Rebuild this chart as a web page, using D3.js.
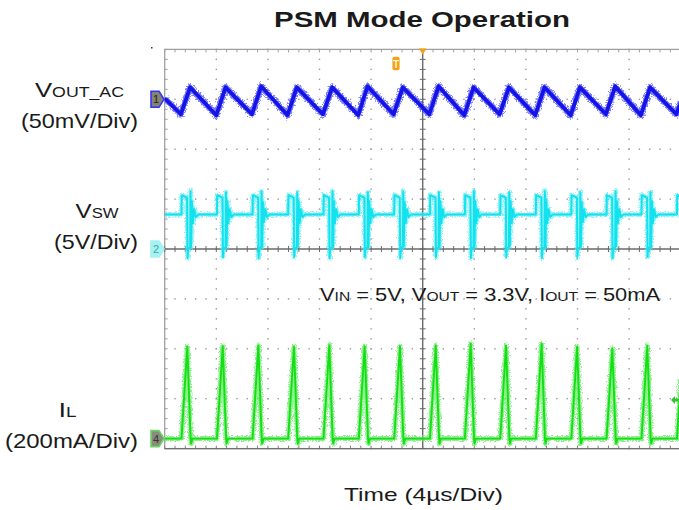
<!DOCTYPE html>
<html><head><meta charset="utf-8">
<script src="https://cdn.jsdelivr.net/npm/d3@7"></script>
<style>
body{margin:0;background:#fff}
svg{display:block}
text{font-family:"Liberation Sans",Arial,sans-serif;fill:#1a1a1a}
</style>
</head><body>
<svg id="c" width="679" height="510"></svg>
<script>
// ---------------- data (time in µs, trigger at 0) ----------------
const titleText = "PSM Mode Operation";
const xAxisLabel = "Time  (4\u00b5s/Div)";
const channelLabels = [
  {main:"V", sub:"OUT_AC", scale:"(50mV/Div)"},
  {main:"V", sub:"SW", scale:"(5V/Div)"},
  {main:"I", sub:"L", scale:"(200mA/Div)"}
];
const conditionParts = [["V","IN"," = 5V, "],["V","OUT"," = 3.3V, "],["I","OUT"," = 50mA"]];
// channel settings: units per division and ground offset in divisions
const voutPerDiv = 50, voutOffsetDiv = 3;
const vswPerDiv = 5, vswOffsetDiv = 0;
const ilPerDiv = 200, ilOffsetDiv = -3.8;

// VOUT_AC ripple (mV)
const voutTrace = [
 [-20.00,1],
 [-18.75,-15],[-18.03,12],
 [-16.00,-16],[-15.28,12],
 [-13.24,-15],[-12.52,13],
 [-10.48,-16],[-9.76,12],
 [-7.74,-15],[-7.02,12],
 [-5.00,-16],[-4.28,13],
 [-2.26,-15],[-1.54,12],
 [0.51,-15],[1.23,13],
 [3.22,-16],[3.94,12],
 [5.96,-15],[6.68,12],
 [8.72,-16],[9.44,12],
 [11.47,-16],[12.19,12],
 [14.20,-15],[14.92,13],
 [16.91,-16],[17.63,12],
 [19.66,-15],[20.00,-3]
];

// switch node voltage (V)
const vswTrace = [
 [-20.00,3.45],
 [-18.70,3.45],[-18.68,5.4],[-18.27,5.15],[-18.23,-0.9],[-18.18,0.1],[-18.03,0.1],[-18.00,5.8],[-17.95,0.2],[-17.89,4.8],[-17.81,2.6],[-17.71,4.0],[-17.59,3.2],[-17.40,3.45],
 [-15.95,3.45],[-15.93,5.4],[-15.52,5.15],[-15.48,-0.8],[-15.43,0.1],[-15.28,0.1],[-15.25,5.7],[-15.20,0.3],[-15.14,4.8],[-15.06,2.6],[-14.96,4.0],[-14.84,3.2],[-14.65,3.45],
 [-13.19,3.45],[-13.17,5.4],[-12.76,5.15],[-12.72,-0.9],[-12.67,0.1],[-12.52,0.1],[-12.49,5.8],[-12.44,0.2],[-12.38,4.7],[-12.30,2.7],[-12.20,4.0],[-12.08,3.2],[-11.89,3.45],
 [-10.43,3.45],[-10.41,5.4],[-10.00,5.15],[-9.96,-0.8],[-9.91,0.1],[-9.76,0.1],[-9.73,5.7],[-9.68,0.3],[-9.62,4.8],[-9.54,2.6],[-9.44,4.0],[-9.32,3.2],[-9.13,3.45],
 [-7.69,3.45],[-7.67,5.4],[-7.26,5.15],[-7.22,-0.9],[-7.17,0.1],[-7.02,0.1],[-6.99,5.8],[-6.94,0.2],[-6.88,4.8],[-6.80,2.6],[-6.70,4.0],[-6.58,3.2],[-6.39,3.45],
 [-4.95,3.45],[-4.93,5.4],[-4.52,5.15],[-4.48,-0.8],[-4.43,0.1],[-4.28,0.1],[-4.25,5.7],[-4.20,0.2],[-4.14,4.8],[-4.06,2.6],[-3.96,4.0],[-3.84,3.2],[-3.65,3.45],
 [-2.21,3.45],[-2.19,5.4],[-1.78,5.15],[-1.74,-0.9],[-1.69,0.1],[-1.54,0.1],[-1.51,5.8],[-1.46,0.3],[-1.40,4.7],[-1.32,2.6],[-1.22,4.0],[-1.10,3.2],[-0.91,3.45],
 [0.56,3.45],[0.58,5.4],[0.99,5.15],[1.03,-0.8],[1.08,0.1],[1.23,0.1],[1.26,5.7],[1.31,0.2],[1.37,4.8],[1.45,2.6],[1.55,4.0],[1.67,3.2],[1.86,3.45],
 [3.27,3.45],[3.29,5.4],[3.70,5.15],[3.74,-0.9],[3.79,0.1],[3.94,0.1],[3.97,5.8],[4.02,0.2],[4.08,4.8],[4.16,2.6],[4.26,4.0],[4.38,3.2],[4.57,3.45],
 [6.01,3.45],[6.03,5.4],[6.44,5.15],[6.48,-0.8],[6.53,0.1],[6.68,0.1],[6.71,5.7],[6.76,0.3],[6.82,4.8],[6.90,2.6],[7.00,4.0],[7.12,3.2],[7.31,3.45],
 [8.77,3.45],[8.79,5.4],[9.20,5.15],[9.24,-0.9],[9.29,0.1],[9.44,0.1],[9.47,5.8],[9.52,0.2],[9.58,4.8],[9.66,2.6],[9.76,4.0],[9.88,3.2],[10.07,3.45],
 [11.52,3.45],[11.54,5.4],[11.95,5.15],[11.99,-0.8],[12.04,0.1],[12.19,0.1],[12.22,5.7],[12.27,0.2],[12.33,4.7],[12.41,2.7],[12.51,4.0],[12.63,3.2],[12.82,3.45],
 [14.25,3.45],[14.27,5.4],[14.68,5.15],[14.72,-0.9],[14.77,0.1],[14.92,0.1],[14.95,5.8],[15.00,0.3],[15.06,4.8],[15.14,2.6],[15.24,4.0],[15.36,3.2],[15.55,3.45],
 [16.96,3.45],[16.98,5.4],[17.39,5.15],[17.43,-0.8],[17.48,0.1],[17.63,0.1],[17.66,5.7],[17.71,0.2],[17.77,4.8],[17.85,2.6],[17.95,4.0],[18.07,3.2],[18.26,3.45],
 [19.71,3.45],[19.73,5.4],[20.00,5.2]
];

// inductor current (mA)
const ilTrace = [
 [-20.00,0],
 [-18.70,0],[-18.25,368],[-17.99,0],[-17.95,-20],[-17.85,0],
 [-15.95,0],[-15.50,370],[-15.24,0],[-15.20,-20],[-15.10,0],
 [-13.19,0],[-12.74,372],[-12.48,0],[-12.44,-20],[-12.34,0],
 [-10.43,0],[-9.98,368],[-9.72,0],[-9.68,-20],[-9.58,0],
 [-7.69,0],[-7.24,374],[-6.98,0],[-6.94,-20],[-6.84,0],
 [-4.95,0],[-4.50,370],[-4.24,0],[-4.20,-20],[-4.10,0],
 [-2.21,0],[-1.76,370],[-1.50,0],[-1.46,-20],[-1.36,0],
 [0.56,0],[1.01,372],[1.27,0],[1.31,-20],[1.41,0],
 [3.27,0],[3.72,380],[3.98,0],[4.02,-20],[4.12,0],
 [6.01,0],[6.46,372],[6.72,0],[6.76,-20],[6.86,0],
 [8.77,0],[9.22,380],[9.48,0],[9.52,-20],[9.62,0],
 [11.52,0],[11.97,368],[12.23,0],[12.27,-20],[12.37,0],
 [14.25,0],[14.70,360],[14.96,0],[15.00,-20],[15.10,0],
 [16.96,0],[17.41,372],[17.67,0],[17.71,-20],[17.81,0],
 [19.71,0],[20.00,235]
];

// ---------------- drawing ----------------
const svg = d3.select("#c");
svg.append("rect").attr("width",679).attr("height",510).attr("fill","#fff");

const defs = svg.append("defs");
const f = defs.append("filter").attr("id","fuzz").attr("x","-5%").attr("y","-20%").attr("width","110%").attr("height","140%");
f.append("feTurbulence").attr("type","fractalNoise").attr("baseFrequency","0.8").attr("numOctaves",2).attr("seed",3).attr("result","n");
f.append("feDisplacementMap").attr("in","SourceGraphic").attr("in2","n").attr("scale",6).attr("xChannelSelector","R").attr("yChannelSelector","G");

const x = d3.scaleLinear().domain([-20,20]).range([164.7,680.7]);
const y = d3.scaleLinear().domain([-4,4]).range([448.6,49.4]);

const g = svg.append("g");
const majorX = d3.range(-20,20.001,4);
const majorY = d3.range(-4,4.001,1);
const minorX = d3.range(-20,20.001,0.8);
const minorY = d3.range(-4,4.001,0.2);

// dotted graticule
majorX.filter(v=>v!==-20 && v!==0 && v!==20).forEach(v=>{
  g.selectAll(null).data(minorY).enter().append("rect")
   .attr("x",x(v)-0.7).attr("y",d=>y(d)-0.7).attr("width",1.4).attr("height",1.4).attr("fill","#9a9a9a");
});
majorY.filter(v=>v!==-4 && v!==0 && v!==4).forEach(v=>{
  g.selectAll(null).data(minorX).enter().append("rect")
   .attr("x",d=>x(d)-0.7).attr("y",y(v)-0.7).attr("width",1.4).attr("height",1.4).attr("fill","#9a9a9a");
});

// border
g.append("rect").attr("x",x(-20)).attr("y",y(4)).attr("width",x(20)-x(-20)).attr("height",y(-4)-y(4))
 .attr("fill","none").attr("stroke","#a0a0a0").attr("stroke-width",1.3);
g.selectAll(null).data(minorY).enter().append("line")
 .attr("x1",x(-20)).attr("x2",x(-20)+3).attr("y1",d=>y(d)).attr("y2",d=>y(d)).attr("stroke","#a0a0a0");
g.selectAll(null).data(minorX).enter().append("line")
 .attr("x1",d=>x(d)).attr("x2",d=>x(d)).attr("y1",y(4)).attr("y2",y(4)+3).attr("stroke","#a0a0a0");
g.selectAll(null).data(minorX).enter().append("line")
 .attr("x1",d=>x(d)).attr("x2",d=>x(d)).attr("y1",y(-4)).attr("y2",y(-4)-3).attr("stroke","#808080");
g.append("line").attr("x1",x(-20)).attr("x2",x(20)).attr("y1",y(-4)).attr("y2",y(-4)).attr("stroke","#707070").attr("stroke-width",1.3);

// center axes
g.append("line").attr("x1",x(-20)).attr("x2",x(20)).attr("y1",y(0)).attr("y2",y(0)).attr("stroke","#6a6a6a").attr("stroke-width",1.4);
g.append("line").attr("x1",x(0)).attr("x2",x(0)).attr("y1",y(4)).attr("y2",y(-4)).attr("stroke","#6a6a6a").attr("stroke-width",1.4);
g.selectAll(null).data(minorX).enter().append("line")
 .attr("x1",d=>x(d)).attr("x2",d=>x(d)).attr("y1",y(0)-3).attr("y2",y(0)+3).attr("stroke","#6a6a6a");
g.selectAll(null).data(minorY).enter().append("line")
 .attr("x1",x(0)-3).attr("x2",x(0)+3).attr("y1",d=>y(d)).attr("y2",d=>y(d)).attr("stroke","#6a6a6a");

// traces
svg.append("clipPath").attr("id","plot").append("rect")
  .attr("x",x(-20)).attr("y",y(4)-2).attr("width",x(20)-x(-20)).attr("height",y(-4)-y(4)+4);
const tg = svg.append("g").attr("clip-path","url(#plot)");

function drawTrace(data, perDiv, offDiv, color, halo, haloW, mainW){
  const line = d3.line().x(d=>x(d[0])).y(d=>y(offDiv + d[1]/perDiv));
  tg.append("path").datum(data).attr("d",line).attr("fill","none").attr("filter","url(#fuzz)")
    .attr("stroke",halo).attr("stroke-width",haloW).attr("stroke-opacity",0.65).attr("stroke-linejoin","round");
  tg.append("path").datum(data).attr("d",line).attr("fill","none")
    .attr("stroke",color).attr("stroke-width",mainW).attr("stroke-linejoin","round");
}
drawTrace(voutTrace, voutPerDiv, voutOffsetDiv, "#1414e6", "#3c3cff", 6.5, 3.8);
drawTrace(vswTrace, vswPerDiv, vswOffsetDiv, "#12e2ee", "#50eaf4", 4.5, 1.9);
drawTrace(ilTrace, ilPerDiv, ilOffsetDiv, "#12e012", "#50ea50", 5, 1.9);

// channel markers
function marker(yy, fill, stroke, label, labelColor){
  const mg = svg.append("g").attr("transform",`translate(151,${yy})`);
  mg.append("path").attr("d","M0,-8 L8,-8 L13,0 L8,8 L0,8 Z").attr("fill",fill).attr("stroke",stroke).attr("stroke-width",1.6);
  mg.append("text").attr("x",5).attr("y",4).attr("text-anchor","middle").attr("font-size",11)
    .style("fill",labelColor).text(label);
}
marker(y(voutOffsetDiv), "#85856f", "#3434ff", "1", "#222");
marker(y(vswOffsetDiv), "#a6f2f2", "#a6f2f2", "2", "#3aa8a8");
marker(y(ilOffsetDiv), "#8b8b7b", "#6ad46a", "4", "#333");

// trigger markers
svg.append("path").attr("d",`M${x(0)-4},${y(4)-1} L${x(0)+4},${y(4)-1} L${x(0)},${y(4)+5} Z`).attr("fill","#f5a01a");
const tm = svg.append("g").attr("transform","translate(396,63.5)");
tm.append("rect").attr("x",-3.6).attr("y",-6.8).attr("width",7.2).attr("height",13.6).attr("rx",2).attr("fill","#f5a01a");
tm.append("text").attr("x",0).attr("y",4).attr("text-anchor","middle").attr("font-size",10).attr("font-weight","bold").style("fill","#fff2d0").text("T");
svg.append("path").attr("d","M671,400 L675,396 L675,398.5 L678.5,398.5 L678.5,401.5 L675,401.5 L675,404 Z").attr("fill","#30c030");
svg.append("rect").attr("x",151).attr("y",47).attr("width",1.5).attr("height",1.5).attr("fill","#333");

// title
svg.append("text").attr("x",422).attr("y",27).attr("text-anchor","middle")
  .attr("font-size",22).attr("font-weight","bold").attr("textLength",296).attr("lengthAdjust","spacingAndGlyphs").text(titleText);

// channel labels
const labelPos = [
  {cx:79.5, y1:97, y2:128, w1:89, w2:117},
  {cx:97, y1:218, y2:249, w1:43, w2:84},
  {cx:67.5, y1:417, y2:448, w1:18, w2:133}
];
channelLabels.forEach((c,i)=>{
  const p = labelPos[i];
  const t = svg.append("text").attr("x",p.cx).attr("y",p.y1).attr("text-anchor","middle").attr("font-size",21)
    .attr("textLength",p.w1).attr("lengthAdjust","spacingAndGlyphs");
  t.append("tspan").text(c.main);
  t.append("tspan").attr("font-size",14.5).text(c.sub);
  svg.append("text").attr("x",p.cx+(i===0?0:(i===1?-1:4))).attr("y",p.y2).attr("text-anchor","middle").attr("font-size",21)
    .attr("textLength",p.w2).attr("lengthAdjust","spacingAndGlyphs").text(c.scale);
});

// condition annotation
const ct = svg.append("text").attr("x",320).attr("y",301).attr("font-size",17.5)
  .attr("textLength",340).attr("lengthAdjust","spacingAndGlyphs");
conditionParts.forEach(c=>{
  ct.append("tspan").text(c[0]);
  ct.append("tspan").attr("font-size",12.5).text(c[1]);
  ct.append("tspan").text(c[2]);
});

// x axis label
svg.append("text").attr("x",423.5).attr("y",501).attr("text-anchor","middle").attr("font-size",19)
  .attr("textLength",159).attr("lengthAdjust","spacingAndGlyphs").text(xAxisLabel);
</script>
</body></html>
